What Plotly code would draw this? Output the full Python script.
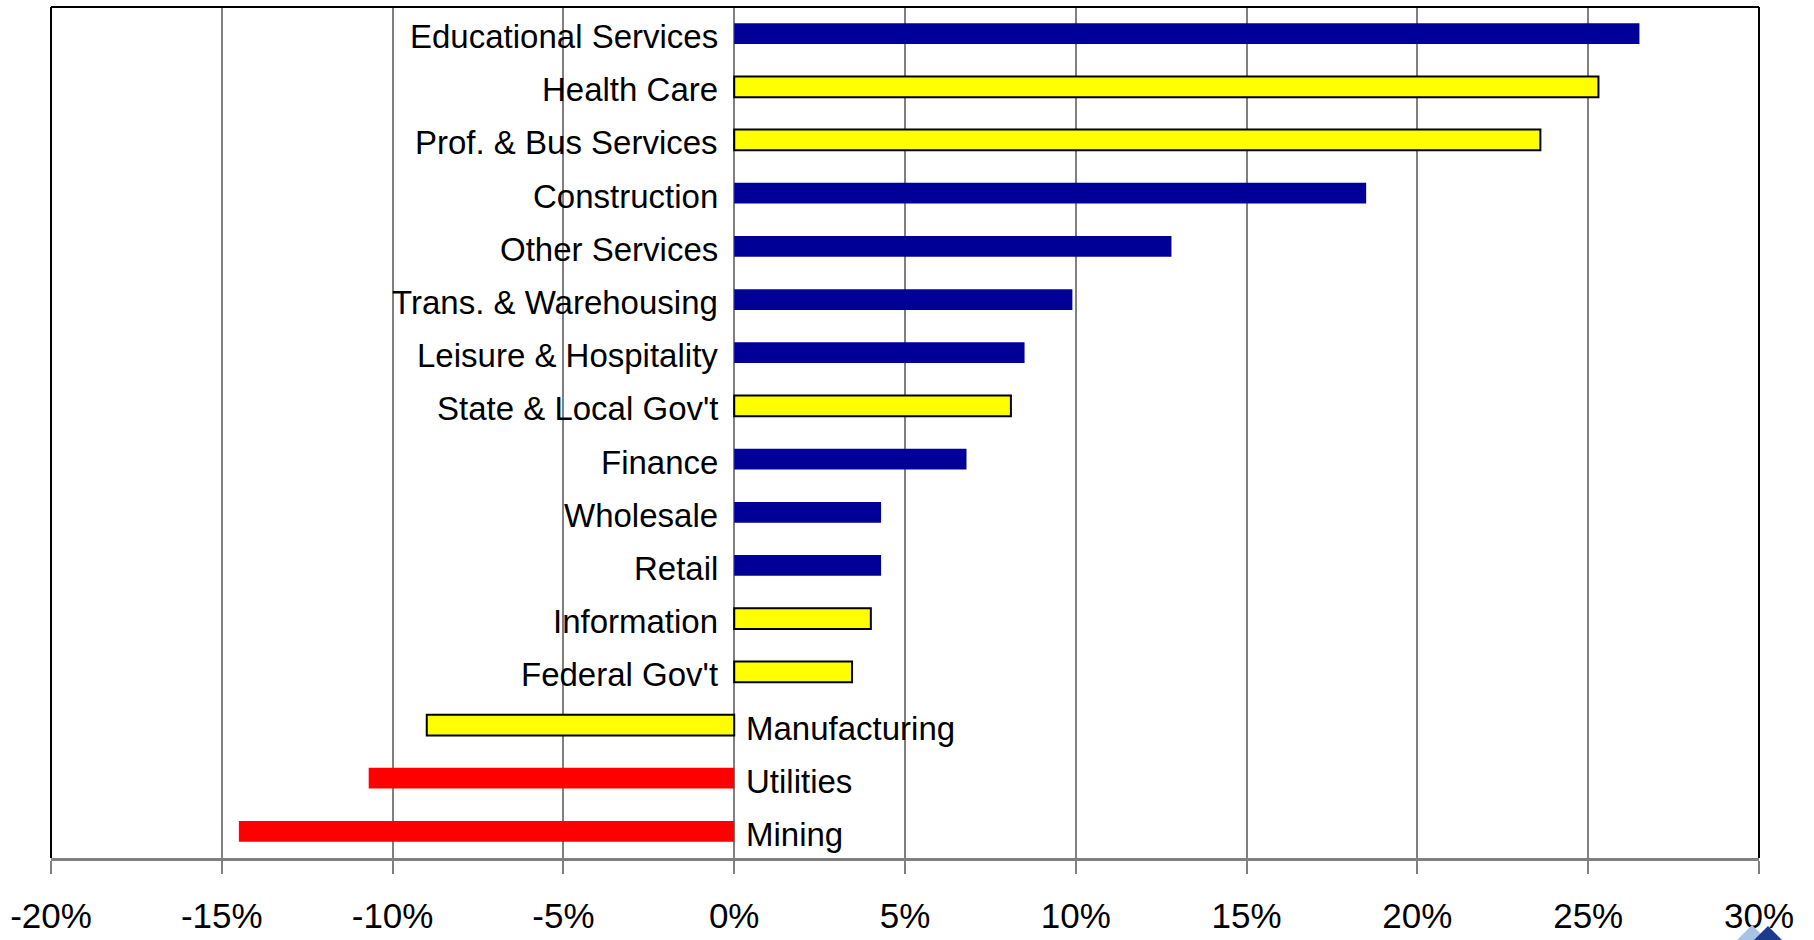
import plotly.graph_objects as go

# ---- data ----
categories = [
    "Educational Services", "Health Care", "Prof. & Bus Services", "Construction",
    "Other Services", "Trans. & Warehousing", "Leisure & Hospitality",
    "State & Local Gov't", "Finance", "Wholesale", "Retail", "Information",
    "Federal Gov't", "Manufacturing", "Utilities", "Mining",
]
growth_pct = [26.5, 25.3, 23.6, 18.5, 12.8, 9.9, 8.5, 8.1, 6.8, 4.3, 4.3, 4.0,
              3.45, -9.0, -10.7, -14.5]
color_class = ["navy", "yellow", "yellow", "navy", "navy", "navy", "navy", "yellow",
               "navy", "navy", "navy", "yellow", "yellow", "yellow", "red", "red"]
tick_values = [-20, -15, -10, -5, 0, 5, 10, 15, 20, 25, 30]
tick_labels = ["-20%", "-15%", "-10%", "-5%", "0%", "5%", "10%", "15%", "20%", "25%", "30%"]

styles = {
    "navy": dict(color="#000099", line=dict(color="#000099", width=0)),
    "yellow": dict(color="#FFFF00", line=dict(color="#000000", width=2)),
    "red": dict(color="#FF0000", line=dict(color="#FF0000", width=0)),
}

FONT = "Liberation Sans Narrow, Arial Narrow, Liberation Sans, Arial, sans-serif"
W, H = 1814, 940
ML, MR, MT, MB = 51, 55, 7, 82

fig = go.Figure()
for cls in ["navy", "yellow", "red"]:
    xs = [v for v, c in zip(growth_pct, color_class) if c == cls]
    ys = [k for k, c in zip(categories, color_class) if c == cls]
    fig.add_trace(go.Bar(
        x=xs, y=ys, orientation="h", width=0.39,
        marker=styles[cls], showlegend=False, hoverinfo="x+y",
    ))

for cat, v in zip(categories, growth_pct):
    pos = v >= 0
    fig.add_annotation(
        x=0, y=cat, xref="x", yref="y", text=cat, showarrow=False,
        xanchor="right" if pos else "left", xshift=-14 if pos else 10, yshift=-3,
        yanchor="middle", font=dict(family=FONT, size=33, color="#000000"),
    )

# plot frame (left, top, right)
frame = dict(color="#000000", width=2)
fig.add_shape(type="line", xref="paper", yref="paper", x0=0, x1=0, y0=0, y1=1, line=frame)
fig.add_shape(type="line", xref="paper", yref="paper", x0=0, x1=1, y0=1, y1=1, line=frame)
fig.add_shape(type="line", xref="paper", yref="paper", x0=1, x1=1, y0=0, y1=1, line=frame)

# small corner logo (two overlapping triangles), given in page pixels
def px(x, y):
    return (x - ML) / (W - ML - MR), (H - MB - y) / (H - MT - MB)

def tri(pts):
    p = [px(*q) for q in pts]
    return "M{:.5f},{:.5f} L{:.5f},{:.5f} L{:.5f},{:.5f} Z".format(*p[0], *p[1], *p[2])

fig.add_shape(type="path", xref="paper", yref="paper",
              path=tri([(1735, 942), (1752, 925), (1769, 942)]),
              fillcolor="#A9C3E6", line=dict(width=0))
fig.add_shape(type="path", xref="paper", yref="paper",
              path=tri([(1752, 942), (1768, 926), (1784, 942)]),
              fillcolor="#1E3A8F", line=dict(width=0))

fig.update_layout(
    width=W, height=H,
    margin=dict(l=ML, r=MR, t=MT, b=MB, autoexpand=False),
    plot_bgcolor="#FFFFFF", paper_bgcolor="#FFFFFF",
    bargap=0.6,
    xaxis=dict(
        range=[-20, 30], tickvals=tick_values, ticktext=tick_labels,
        showgrid=True, gridcolor="#808080", gridwidth=1.5,
        zeroline=True, zerolinecolor="#808080", zerolinewidth=1.5,
        showline=True, linecolor="#808080", linewidth=2.5,
        ticks="outside", ticklen=13, tickcolor="#808080", tickwidth=1.5,
        ticklabelstandoff=12, automargin=False,
        tickfont=dict(family=FONT, size=35, color="#000000"),
        fixedrange=True,
    ),
    yaxis=dict(
        categoryorder="array", categoryarray=categories,
        range=[len(categories) - 0.5, -0.5],
        showticklabels=False, showgrid=False, zeroline=False, ticks="",
        automargin=False, fixedrange=True,
    ),
)

fig.write_html(
    "out.html",
    config={"displayModeBar": False},
    post_script="document.body.style.margin='0';document.body.style.overflow='hidden';",
)
